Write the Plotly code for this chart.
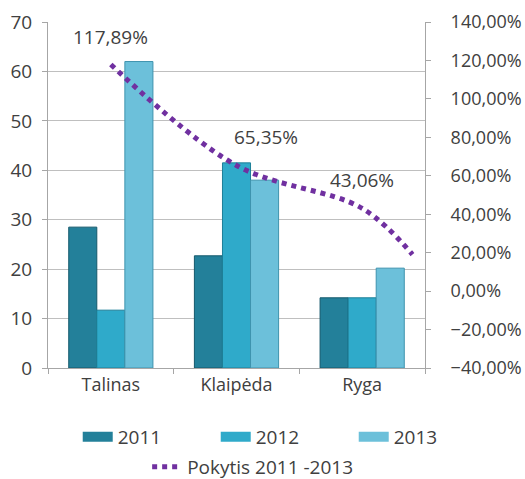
import plotly.graph_objects as go

cities = ["Talinas", "Klaipėda", "Ryga"]
years = ["2011", "2012", "2013"]
v2011 = [28.5, 22.7, 14.2]
v2012 = [11.7, 41.5, 14.2]
v2013 = [62.0, 38.0, 20.2]
bar_colors = ["#23809A", "#2FAACA", "#6CC0DA"]
edge_colors = ["#15596C", "#1D7F98", "#3E93AE"]

# change line (secondary axis)
pokytis_x = [0, 1, 2, 2.4]
pokytis_vals = [117.89, 65.35, 43.06, 19.0]
label_idx = [0, 1, 2]
label_xshift = [0, 29, 0]

font_family = "Open Sans"
txt_col = "#404040"

fig = go.Figure()
for yr, vals, c, ec in zip(years, [v2011, v2012, v2013], bar_colors, edge_colors):
    fig.add_trace(go.Bar(x=cities, y=vals, name=yr, marker=dict(color=c, line=dict(color=ec, width=1)),
                         xaxis="x", yaxis="y", legendgroup=yr, showlegend=False))
    # legend proxy giving a wide bar-like swatch
    fig.add_trace(go.Scatter(x=[None], y=[None], name=yr, mode="lines", legendgroup=yr,
                             line=dict(color=c, width=10), xaxis="x2", yaxis="y2", legend="legend",
                             hoverinfo="skip"))

fig.add_trace(go.Scatter(x=pokytis_x, y=pokytis_vals, name="Pokytis 2011 -2013", mode="lines",
                         line=dict(color="#7030A0", width=5, dash="5px,5px", shape="spline", smoothing=1.0),
                         xaxis="x2", yaxis="y2", legend="legend2"))

for i, xs in zip(label_idx, label_xshift):
    fig.add_annotation(x=pokytis_x[i], y=pokytis_vals[i], xref="x2", yref="y2",
                       text=f"{pokytis_vals[i]:.2f}%".replace(".", ","), showarrow=False,
                       xshift=xs, yshift=28, font=dict(family=font_family, size=19, color=txt_col))

axis_line = "#A6A6A6"
fig.update_layout(
    width=525, height=479,
    margin=dict(l=48, r=100, t=22, b=111, autoexpand=False),
    paper_bgcolor="white", plot_bgcolor="white",
    separators=", ",
    barmode="group", bargap=0.33, bargroupgap=0,
    font=dict(family=font_family, size=18, color=txt_col),
    xaxis=dict(type="category", showline=True, linecolor=axis_line, ticks="outside", tickson="boundaries",
               ticklen=5, tickcolor=axis_line, showgrid=False, tickfont=dict(size=18, color=txt_col)),
    xaxis2=dict(overlaying="x", range=[-0.5, 2.5], visible=False),
    yaxis=dict(range=[0, 70], dtick=10, showline=True, linecolor=axis_line, ticks="outside", ticklen=5,
               tickcolor=axis_line, gridcolor="#BFBFBF", gridwidth=1, zeroline=False, ticklabelstandoff=6,
               tickfont=dict(size=19, color=txt_col)),
    yaxis2=dict(overlaying="y", side="right", anchor="x", range=[-40, 140], dtick=20, tickformat=".2f",
                ticksuffix="%", showline=True, linecolor=axis_line, ticks="outside", ticklen=5,
                tickcolor=axis_line, showgrid=False, zeroline=False, ticklabelstandoff=16,
                tickfont=dict(size=18, color=txt_col)),
    legend=dict(orientation="h", x=1.177, xanchor="right", y=-0.199, yanchor="middle", entrywidth=93,
                font=dict(size=19, color=txt_col), traceorder="normal", bgcolor="rgba(0,0,0,0)"),
    legend2=dict(orientation="h", x=0.263, xanchor="left", y=-0.286, yanchor="middle",
                 font=dict(size=19, color=txt_col), bgcolor="rgba(0,0,0,0)"),
    showlegend=True,
)

fig.write_html("out.html")
